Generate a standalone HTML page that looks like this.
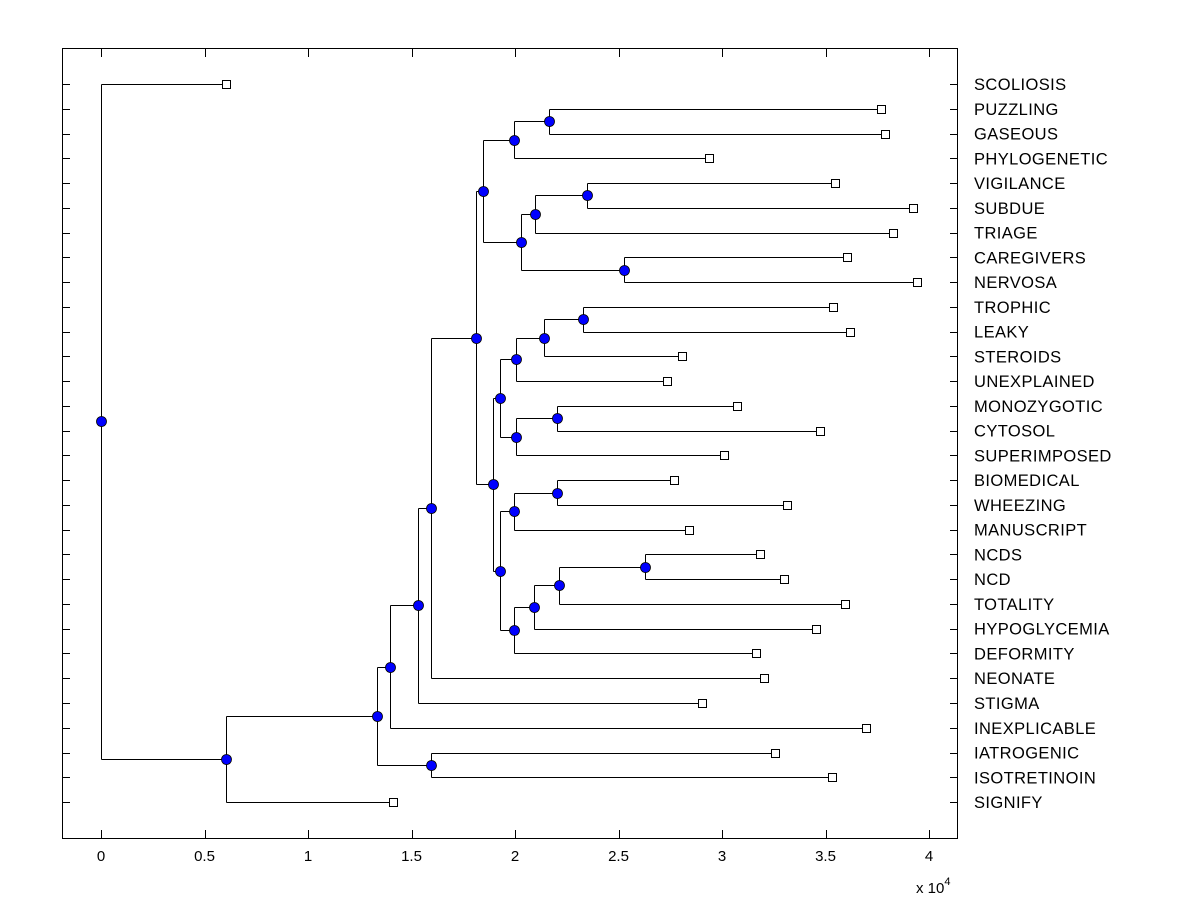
<!DOCTYPE html>
<html><head><meta charset="utf-8"><style>
body{margin:0;background:#fff;}
svg{display:block;font-family:"Liberation Sans",Arial,sans-serif;}
</style></head><body>
<svg id="chart" width="1200" height="900">
<rect x="0" y="0" width="1200" height="900" fill="#fff"/>
<rect x="62.5" y="48.5" width="895" height="790" fill="#fff" stroke="#000" stroke-width="1"/>
<g id="ticks"></g><g id="links"></g><g id="marks"></g><g id="labels"></g>
<text x="916" y="893" font-size="15">x 10<tspan dy="-8" font-size="11">4</tspan></text>
</svg>
<script>
const leafNames = ["SCOLIOSIS","PUZZLING","GASEOUS","PHYLOGENETIC","VIGILANCE","SUBDUE","TRIAGE","CAREGIVERS","NERVOSA","TROPHIC","LEAKY","STEROIDS","UNEXPLAINED","MONOZYGOTIC","CYTOSOL","SUPERIMPOSED","BIOMEDICAL","WHEEZING","MANUSCRIPT","NCDS","NCD","TOTALITY","HYPOGLYCEMIA","DEFORMITY","NEONATE","STIGMA","INEXPLICABLE","IATROGENIC","ISOTRETINOIN","SIGNIFY"];
const leafValues = [0.604,3.768,3.787,2.937,3.546,3.923,3.826,3.604,3.942,3.536,3.618,2.807,2.734,3.072,3.473,3.010,2.768,3.314,2.841,3.184,3.300,3.594,3.454,3.164,3.203,2.903,3.696,3.256,3.531,1.411];
const nodeNames = ["root","A","B","C","D","E","F","G","H","J","L","K","M","O","N","I","P","R","T","U","S","V","Q","W","Y","X","Z","AA","BB"];
const nodeValues = [0,0.604,1.333,1.396,1.594,1.531,1.594,1.812,1.845,1.995,2.164,2.029,2.097,2.348,2.527,1.894,1.928,2.005,2.140,2.329,2.005,2.203,1.928,1.995,2.203,1.995,2.092,2.213,2.628];
const nodeChildren = [[0,"A"],["B",29],["C","D"],["E",26],[27,28],["F",25],["G",24],["H","I"],["J","K"],["L",3],[1,2],["M","N"],["O",6],[4,5],[7,8],["P","Q"],["R","S"],["T",12],["U",11],[9,10],["V",15],[13,14],["W","X"],["Y",18],[16,17],["Z",23],["AA",22],["BB",21],[19,20]];
const xTicks = [0,0.5,1,1.5,2,2.5,3,3.5,4];

const NS="http://www.w3.org/2000/svg";
const xs=v=>101+v*207;
const ys=i=>84+i*24.76;
function mk(tag,attrs,parent){const e=document.createElementNS(NS,tag);for(const k in attrs)e.setAttribute(k,attrs[k]);document.getElementById(parent).appendChild(e);return e;}

xTicks.forEach(t=>{
  const x=Math.round(xs(t))+0.5;
  const a=mk("line",{x1:x,x2:x,y1:838,y2:830,stroke:"#000"},"ticks");
  
  
  const b=mk("line",{x1:x,x2:x,y1:49,y2:57,stroke:"#000"},"ticks");
  
  
  const l=mk("text",{x:xs(t),y:861,"font-size":15,"text-anchor":"middle"},"labels");
  l.textContent=String(t);
  
  
});
leafNames.forEach((n,i)=>{
  const y=Math.round(ys(i))+0.5;
  const a=mk("line",{x1:62,x2:70,y1:y,y2:y,stroke:"#000"},"ticks");
  
  
  const b=mk("line",{x1:950,x2:958,y1:y,y2:y,stroke:"#000"},"ticks");
  
  
  const l=mk("text",{x:974,y:ys(i)+6,"font-size":16.5,"letter-spacing":0.4},"labels");
  l.textContent=n;
  
  
});

const pos={};
function place(c){
  if(typeof c==="number") return {x:xs(leafValues[c]),y:ys(c)};
  if(pos[c]) return pos[c];
  const k=nodeNames.indexOf(c);
  const ch=nodeChildren[k].map(place);
  pos[c]={x:xs(nodeValues[k]),y:(ch[0].y+ch[1].y)/2,ch};
  return pos[c];
}
nodeNames.forEach(place);
nodeNames.forEach(n=>{
  const p=pos[n];
  const x=Math.round(p.x)+0.5;
  const v=mk("line",{x1:x,x2:x,y1:Math.round(p.ch[0].y)+0.5,y2:Math.round(p.ch[1].y)+0.5,stroke:"#000"},"links");
  
  
  p.ch.forEach(c=>{
    const y=Math.round(c.y)+0.5;
    const h=mk("line",{x1:x,x2:c.x,y1:y,y2:y,stroke:"#000"},"links");
    
    
  });
});
leafNames.forEach((n,i)=>{
  const r=mk("rect",{x:Math.round(xs(leafValues[i]))-3.5,y:Math.round(ys(i))-3.5,width:8,height:8,fill:"#fff",stroke:"#000"},"marks");
  
  
});
nodeNames.forEach(n=>{
  const p=pos[n];
  const c=mk("circle",{cx:Math.round(p.x)+0.5,cy:Math.round(p.y)+0.5,r:5,fill:"#0000ff",stroke:"#000","stroke-width":0.8},"marks");
  
  
});
</script>
</body></html>
